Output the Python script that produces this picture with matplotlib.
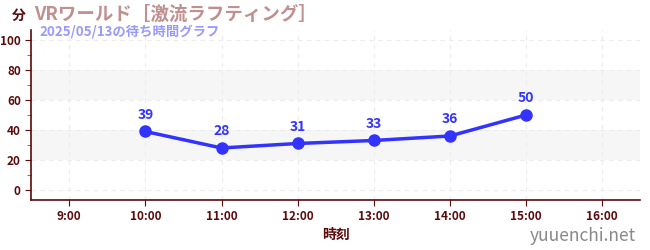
import matplotlib.pyplot as plt
import numpy as np

plt.rcParams['font.family'] = ['Noto Sans CJK JP', 'DejaVu Sans']

hours = [10, 11, 12, 13, 14, 15]
waits = [39, 28, 31, 33, 36, 50]
xtick_hours = [9, 10, 11, 12, 13, 14, 15, 16]
xtick_labels = ["9:00", "10:00", "11:00", "12:00", "13:00", "14:00", "15:00", "16:00"]
yticks = [0, 20, 40, 60, 80, 100]

dark = "#5a0a0a"
blue = "#3333ff"

fig = plt.figure(figsize=(6.5, 2.5), dpi=100)
ax = fig.add_axes([0.048, 0.2, 0.937, 0.68])

# background bands
for lo, hi in [(20, 40), (60, 80)]:
    ax.axhspan(lo, hi, color="#f6f6f6", zorder=0, lw=0)

ax.plot(hours, waits, color=blue, lw=2.5, marker="o", ms=8, zorder=3)
for h, w in zip(hours, waits):
    ax.annotate(str(w), (h, w), xytext=(0, 7), textcoords="offset points",
                ha="center", va="bottom", color=blue, fontsize=10, fontweight="bold")

ax.set_xlim(8.5, 16.5)
ax.set_ylim(-6.7, 106.7)
ax.set_xticks(xtick_hours)
ax.set_xticklabels(xtick_labels, fontweight="bold")
ax.set_yticks(yticks)
ax.set_yticklabels([str(v) for v in yticks], fontweight="bold")
ax.set_yticks([10, 30, 50, 70, 90], minor=True)
ax.tick_params(axis="y", which="minor", length=3, color="#dd2222")
ax.tick_params(axis="both", which="major", length=4, color=dark, labelcolor=dark, labelsize=8.5)
ax.grid(True, which="major", color="#ececec", ls=(0, (4, 4)), lw=0.8)
ax.set_axisbelow(True)
for s in ["top", "right"]:
    ax.spines[s].set_visible(False)
for s in ["left", "bottom"]:
    ax.spines[s].set_color(dark)
    ax.spines[s].set_linewidth(1.2)

ax.set_xlabel("時刻", color=dark, fontsize=10, fontweight="bold", labelpad=3)

fig.text(0.018, 0.935, "分", color=dark, fontsize=10, fontweight="bold", va="center")
fig.text(0.052, 0.945, "VRワールド［激流ラフティング］", color="#c09090", fontsize=13.3,
         fontweight="bold", va="center")
fig.text(0.06, 0.875, "2025/05/13の待ち時間グラフ", color="#9999ff", fontsize=9.6,
         fontweight="bold", va="center")
fig.text(0.978, 0.055, "yuuenchi.net", color="#888888", fontsize=12.5, ha="right", va="center")

fig.savefig("out.png", dpi=100)
